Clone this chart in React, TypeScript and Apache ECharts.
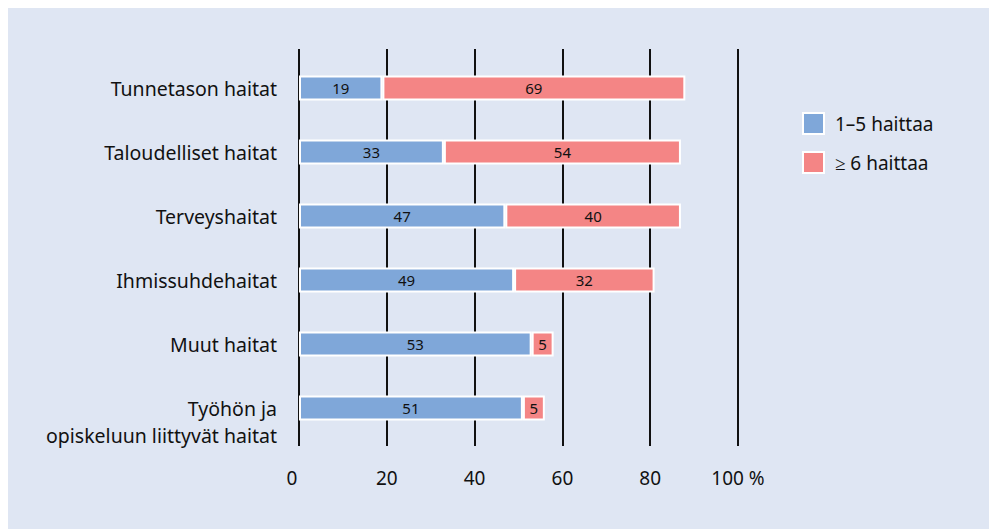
import React, { useEffect, useRef } from "react";
import * as echarts from "echarts";

const categories = [
  "Tunnetason haitat",
  "Taloudelliset haitat",
  "Terveyshaitat",
  "Ihmissuhdehaitat",
  "Muut haitat",
  "Työhön ja\nopiskeluun liittyvät haitat",
];
const seriesNames = ["1–5 haittaa", "≥ 6 haittaa"];
const fewHarms = [19, 33, 47, 49, 53, 51];
const manyHarms = [69, 54, 40, 32, 5, 5];
const xTicks = [0, 20, 40, 60, 80, 100];

const FONT = "Noto Sans";
const LINE = "#111111";
const FS = 19.5;

export default function App() {
  const ref = useRef<HTMLDivElement>(null);
  useEffect(() => {
    if (!ref.current) return;
    const chart = echarts.init(ref.current, undefined, { renderer: "svg" });
    const barLabel = {
      show: true,
      position: "inside" as const,
      color: "#111",
      fontSize: 15,
      fontFamily: FONT,
    };
    chart.setOption({
      animation: false,
      backgroundColor: "#dfe6f3",
      textStyle: { fontFamily: FONT },
      legend: {
        orient: "vertical",
        left: 789,
        top: 99,
        itemWidth: 21,
        itemHeight: 21,
        itemGap: 16,
        icon: "rect",
        textStyle: { fontSize: 19, color: "#111", fontFamily: FONT, padding: [0, 0, 0, 6] },
        data: seriesNames,
      },
      grid: { left: 291, right: 259, top: 48, bottom: 89 },
      xAxis: [
        {
          type: "value",
          min: xTicks[0],
          max: xTicks[xTicks.length - 1],
          interval: 20,
          axisLine: { show: false },
          axisTick: { show: true, length: 6, lineStyle: { color: LINE, width: 2 } },
          splitLine: { show: true, lineStyle: { color: LINE, width: 2 } },
          axisLabel: {
            margin: 28,
            fontSize: 19,
            color: "#111",
            fontFamily: FONT,
            formatter: (v: number) =>
              v === 0 ? "{z|0}" : v === 100 ? "100 %" : String(v),
            rich: { z: { padding: [0, 14, 0, 0], fontSize: 19, color: "#111", fontFamily: FONT } },
          },
        },
        {
          type: "value",
          position: "top",
          min: xTicks[0],
          max: xTicks[xTicks.length - 1],
          interval: 20,
          axisLine: { show: false },
          axisTick: { show: true, length: 7, lineStyle: { color: LINE, width: 2 } },
          splitLine: { show: false },
          axisLabel: { show: false },
        },
      ],
      yAxis: {
        type: "category",
        inverse: true,
        data: categories,
        axisLine: { show: false },
        axisTick: { show: false },
        axisLabel: {
          margin: 22,
          fontSize: FS,
          color: "#111",
          fontFamily: FONT,
          lineHeight: 27,
          formatter: (v: string) => (v.indexOf("\n") >= 0 ? "\n" + v : v),
        },
      },
      series: [
        {
          name: seriesNames[0],
          type: "bar",
          stack: "total",
          barWidth: 25,
          data: fewHarms,
          itemStyle: { color: "#7fa7d9", borderColor: "#ffffff", borderWidth: 2 },
          label: barLabel,
        },
        {
          name: seriesNames[1],
          type: "bar",
          stack: "total",
          barWidth: 25,
          data: manyHarms,
          itemStyle: { color: "#f48585", borderColor: "#ffffff", borderWidth: 2 },
          label: barLabel,
        },
      ],
    });
    return () => chart.dispose();
  }, []);
  return <div ref={ref} style={{ width: 989, height: 521 }} />;
}
